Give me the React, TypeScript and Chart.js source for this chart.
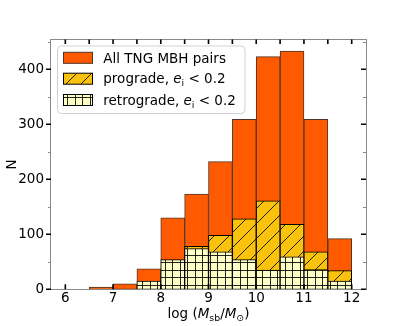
import React, { useEffect, useRef } from "react";
import { Chart, registerables } from "chart.js";

Chart.register(...registerables);

// ---- data ----
const binStarts = [6, 6.5, 7, 7.5, 8, 8.5, 9, 9.5, 10, 10.5, 11, 11.5];
const binWidth = 0.5;
const allPairs = [0, 4, 10, 37, 130, 173, 232, 309, 423, 433, 309, 92];
const prograde = [0, 0, 0, 5, 30, 78, 98, 128, 161, 118, 68, 34];
const retrograde = [0, 0, 0, 15, 54, 74, 68, 54, 35, 59, 36, 15];
const xTickValues = [6, 7, 8, 9, 10, 11, 12];
const xEdgeTicks = [6, 6.5, 7, 7.5, 8, 8.5, 9, 9.5, 10, 10.5, 11, 11.5, 12];
const yTickValues = [0, 100, 200, 300, 400];
const yMinorValues = [50, 150, 250, 350, 450];

type Seg = { t: string; it?: boolean; sub?: boolean };
const legendLabels: Seg[][] = [
  [{ t: "All TNG MBH pairs" }],
  [{ t: "prograde, " }, { t: "e", it: true }, { t: "i", sub: true }, { t: " < 0.2" }],
  [{ t: "retrograde, " }, { t: "e", it: true }, { t: "i", sub: true }, { t: " < 0.2" }],
];
const xTitle: Seg[] = [
  { t: "log" }, { t: " (" }, { t: "M", it: true }, { t: "sb", sub: true },
  { t: "/" }, { t: "M", it: true }, { t: "\u2299", sub: true }, { t: ")" },
];
const yTitle = "N";

// ---- styles ----
const FAMILY = '"DejaVu Sans", sans-serif';
const ORANGE = "#FF5A00";
const ORANGE_EDGE = "#503426";
const GOLD = "#F9C20C";
const CREAM = "#FFFFC8";
const SPINE = "#8a8a8a";

function makePattern(ctx: CanvasRenderingContext2D, kind: "diag" | "grid", bg: string) {
  const s = 15;
  const c = document.createElement("canvas");
  c.width = s;
  c.height = s;
  const g = c.getContext("2d")!;
  g.fillStyle = bg;
  g.fillRect(0, 0, s, s);
  g.strokeStyle = "rgba(0,0,0,0.85)";
  g.lineWidth = 1;
  g.beginPath();
  if (kind === "diag") {
    g.moveTo(-2, s + 2);
    g.lineTo(s + 2, -2);
    g.moveTo(-2, 2);
    g.lineTo(2, -2);
    g.moveTo(s - 2, s + 2);
    g.lineTo(s + 2, s - 2);
  } else {
    for (const p of [0.5, 7.5]) {
      g.moveTo(p, 0);
      g.lineTo(p, s);
      g.moveTo(0, p);
      g.lineTo(s, p);
    }
  }
  g.stroke();
  return ctx.createPattern(c, "repeat")!;
}

function drawRich(ctx: CanvasRenderingContext2D, segs: Seg[], x: number, y: number, size: number, align: "left" | "center") {
  const fontOf = (s: Seg) => `${s.it ? "italic " : ""}${s.sub ? (size * 0.7).toFixed(1) : size}px ${FAMILY}`;
  let total = 0;
  for (const s of segs) {
    ctx.font = fontOf(s);
    total += ctx.measureText(s.t).width;
  }
  let cx = align === "center" ? x - total / 2 : x;
  ctx.textAlign = "left";
  ctx.textBaseline = "alphabetic";
  ctx.fillStyle = "#000";
  for (const s of segs) {
    ctx.font = fontOf(s);
    ctx.fillText(s.t, cx, y + (s.sub ? size * 0.22 : 0));
    cx += ctx.measureText(s.t).width;
  }
}

export default function App() {
  const ref = useRef<HTMLCanvasElement>(null);

  useEffect(() => {
    document.body.style.margin = "0";
    const canvas = ref.current!;
    const ctx = canvas.getContext("2d")!;
    const diag = makePattern(ctx, "diag", GOLD);
    const grid = makePattern(ctx, "grid", CREAM);

    const series = (vals: number[]) =>
      binStarts.map((s, i) => ({ x: s + binWidth / 2, y: vals[i] > 0 ? vals[i] : null }));

    const common = {
      grouped: false,
      barPercentage: 1,
      categoryPercentage: 1,
      borderWidth: 1,
      borderSkipped: false as const,
    };

    const decor = {
      id: "decor",
      afterDatasetsDraw(chart: any) {
        const c: CanvasRenderingContext2D = chart.ctx;
        const { left, right, top, bottom } = chart.chartArea;
        const xs = chart.scales.x;
        const ys = chart.scales.y;
        c.save();
        // spines
        c.strokeStyle = SPINE;
        c.lineWidth = 1;
        c.strokeRect(Math.round(left) - 0.5, Math.round(top) - 0.5, Math.round(right) - Math.round(left) + 1, Math.round(bottom) - Math.round(top) + 1);
        // x ticks (top and bottom, inward)
        c.strokeStyle = "#000";
        c.lineWidth = 1.6;
        c.beginPath();
        for (const v of xEdgeTicks) {
          const px = xs.getPixelForValue(v);
          c.moveTo(px, top);
          c.lineTo(px, top + 4.5);
        }
        for (const v of xTickValues) {
          const px = xs.getPixelForValue(v);
          c.moveTo(px, bottom);
          c.lineTo(px, bottom - 5);
        }
        // y major ticks: left outward, right inward
        for (const v of yTickValues) {
          const py = ys.getPixelForValue(v);
          c.moveTo(left - 5, py);
          c.lineTo(left, py);
          c.moveTo(right, py);
          c.lineTo(right - 5, py);
        }
        c.stroke();
        c.strokeStyle = SPINE;
        c.lineWidth = 1;
        c.beginPath();
        for (const v of yMinorValues) {
          const py = Math.round(ys.getPixelForValue(v)) + 0.5;
          c.moveTo(left - 3, py);
          c.lineTo(left, py);
          c.moveTo(right, py);
          c.lineTo(right - 3, py);
        }
        c.stroke();

        // axis titles
        drawRich(c, xTitle, (left + right) / 2, 318, 13.5, "center");
        c.save();
        c.translate(12, (top + bottom) / 2);
        c.rotate(-Math.PI / 2);
        c.font = `13.5px ${FAMILY}`;
        c.fillStyle = "#000";
        c.textAlign = "center";
        c.textBaseline = "middle";
        c.fillText(yTitle, 0, 0);
        c.restore();

        // legend
        const bx = 57.5, by = 46, bw = 187.5, bh = 67.5, r = 4;
        c.beginPath();
        c.moveTo(bx + r, by);
        c.arcTo(bx + bw, by, bx + bw, by + bh, r);
        c.arcTo(bx + bw, by + bh, bx, by + bh, r);
        c.arcTo(bx, by + bh, bx, by, r);
        c.arcTo(bx, by, bx + bw, by, r);
        c.closePath();
        c.fillStyle = "rgba(255,255,255,0.8)";
        c.fill();
        c.strokeStyle = "rgba(204,204,204,0.9)";
        c.lineWidth = 1;
        c.stroke();
        const fills = [ORANGE, diag, grid];
        const edges = [ORANGE_EDGE, "#000", "#000"];
        const rowCenters = [57.8, 78.7, 100];
        legendLabels.forEach((segs, i) => {
          const cy = rowCenters[i];
          c.fillStyle = fills[i] as any;
          c.fillRect(63.5, cy - 5.5, 29, 11);
          c.strokeStyle = edges[i];
          c.lineWidth = 1;
          c.strokeRect(63.5, cy - 5.5, 29, 11);
          drawRich(c, segs, 103.3, cy + 4.7, 13.5, "left");
        });
        c.restore();
      },
    };

    const chart = new Chart(canvas, {
      type: "bar",
      data: {
        datasets: [
          { ...common, label: "All TNG MBH pairs", data: series(allPairs) as any, backgroundColor: ORANGE, borderColor: ORANGE_EDGE, order: 3 },
          { ...common, label: "prograde", data: series(prograde) as any, backgroundColor: diag as any, borderColor: "#000", order: 2 },
          { ...common, label: "retrograde", data: series(retrograde) as any, backgroundColor: grid as any, borderColor: "#000", order: 1 },
        ],
      },
      options: {
        responsive: false,
        animation: false,
        events: [],
        layout: { padding: { top: 39.6, right: 41, left: 0, bottom: 0 } },
        plugins: { legend: { display: false }, tooltip: { enabled: false } },
        scales: {
          x: {
            type: "linear",
            min: 5.7,
            max: 12.3,
            offset: false,
            grid: { display: false, drawTicks: false },
            border: { display: false },
            afterBuildTicks: (s: any) => {
              s.ticks = xTickValues.map((v) => ({ value: v }));
            },
            afterFit: (s: any) => {
              s.height = 36.7;
            },
            ticks: { color: "#000", font: { family: FAMILY, size: 13.5 }, padding: 1.5, maxRotation: 0, autoSkip: false },
          },
          y: {
            type: "linear",
            min: 0,
            max: 454,
            grid: { display: false, drawTicks: false },
            border: { display: false },
            afterBuildTicks: (s: any) => {
              s.ticks = yTickValues.map((v) => ({ value: v }));
            },
            afterFit: (s: any) => {
              s.width = 51;
            },
            ticks: { color: "#000", font: { family: FAMILY, size: 13.5 }, padding: 7 },
          },
        },
      } as any,
      plugins: [decor],
    });
    return () => chart.destroy();
  }, []);

  return (
    <div style={{ width: 407, height: 326 }}>
      <canvas ref={ref} width={407} height={326} style={{ display: "block" }} />
    </div>
  );
}
